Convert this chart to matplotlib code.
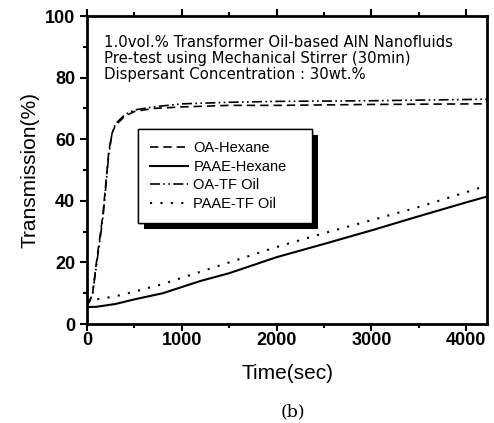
import matplotlib
matplotlib.use('Agg')
import matplotlib.pyplot as plt
import matplotlib.patheffects as pe
from matplotlib.ticker import MultipleLocator

plt.rcParams['font.family'] = ['Liberation Sans', 'DejaVu Sans']

t_oa = [0, 30, 60, 100, 140, 170, 200, 230, 265, 300, 400, 500, 700, 1000, 1500, 2000, 3000, 4220]
oa_hexane = [6, 7.5, 10, 20, 29, 36, 46, 56, 62, 64.5, 67.5, 69, 70, 70.5, 71, 71, 71.3, 71.5]
oa_tf = [6, 7.5, 10, 19, 28, 35, 45, 55, 62, 65, 68, 69.5, 70.5, 71.5, 72, 72.3, 72.5, 73]

t_paae = [0, 100, 300, 500, 800, 1000, 1200, 1500, 2000, 2500, 3000, 3500, 4000, 4220]
paae_hexane = [5.5, 5.6, 6.5, 8, 10, 12, 14, 16.5, 21.7, 26, 30.4, 35, 39.5, 41.4]
paae_tf = [7.5, 8, 9, 10.5, 13, 15, 17, 20, 25, 29.5, 33.7, 38, 42.8, 45]

fig = plt.figure(figsize=(4.94, 4.23), dpi=100)
ax = fig.add_axes([0.176, 0.234, 0.81, 0.728])

lw = 1.2
ax.plot(t_oa, oa_hexane, color='k', lw=lw, ls=(0, (5, 3)), label='OA-Hexane')
ax.plot(t_paae, paae_hexane, color='k', lw=lw + 0.3, ls='-', label='PAAE-Hexane')
ax.plot(t_oa, oa_tf, color='k', lw=lw, ls=(0, (6, 2, 1, 2, 1, 2)), label='OA-TF Oil')
ax.plot(t_paae, paae_tf, color='k', lw=lw + 0.3, ls=(0, (1, 4)), label='PAAE-TF Oil')

ax.set_xlim(0, 4220)
ax.set_ylim(0, 100)
ax.xaxis.set_major_locator(MultipleLocator(1000))
ax.xaxis.set_minor_locator(MultipleLocator(500))
ax.yaxis.set_major_locator(MultipleLocator(20))
ax.yaxis.set_minor_locator(MultipleLocator(10))
ax.tick_params(which='both', direction='out', top=True, right=False, width=1.5)
ax.tick_params(which='major', length=5, labelsize=13)
ax.tick_params(which='minor', length=3)
ax.tick_params(axis='x', which='major', pad=0.5)
for lab in ax.get_xticklabels() + ax.get_yticklabels():
    lab.set_fontweight('bold')
for sp in ax.spines.values():
    sp.set_linewidth(2)

ax.set_xlabel('Time(sec)', fontsize=15, labelpad=11)
ax.set_ylabel('Transmission(%)', fontsize=15, labelpad=4)

ax.text(0.042, 0.94, '1.0vol.% Transformer Oil-based AlN Nanofluids\n'
        'Pre-test using Mechanical Stirrer (30min)\n'
        'Dispersant Concentration : 30wt.%',
        transform=ax.transAxes, fontsize=10.7, family=['DejaVu Sans'],
        va='top', ha='left', linespacing=1.1)

leg = ax.legend(loc='upper left', bbox_to_anchor=(0.1275, 0.3, 0.435, 0.333), mode='expand',
                fontsize=10.5, frameon=True, fancybox=False, framealpha=1, handlelength=2.6,
                handletextpad=0.35, labelspacing=0.3, borderpad=0.85, borderaxespad=0)
fr = leg.get_frame()
fr.set_edgecolor('k')
fr.set_facecolor('white')
fr.set_linewidth(1.0)
fr.set_path_effects([pe.withSimplePatchShadow(offset=(4, -4), shadow_rgbFace='k', alpha=1), pe.Normal()])

fig.text(0.593, 0.026, '(b)', fontsize=12.5, family='DejaVu Serif', ha='center', va='center')

fig.savefig('out.png', dpi=100)
